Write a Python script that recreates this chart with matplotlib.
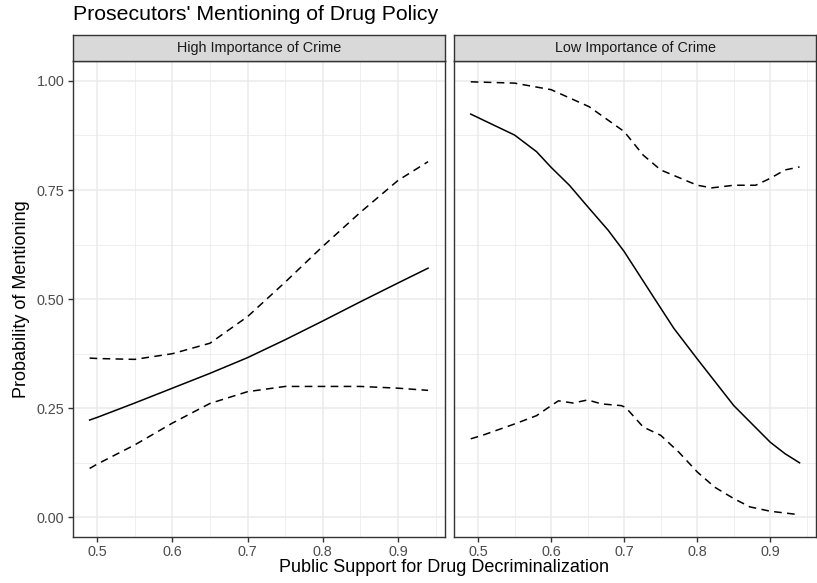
import numpy as np
import matplotlib.pyplot as plt
from matplotlib.ticker import MultipleLocator

plt.rcParams['font.family'] = ['Liberation Sans', 'DejaVu Sans']

# data
panels = ['High Importance of Crime', 'Low Importance of Crime']

high_x = [0.49, 0.50, 0.55, 0.60, 0.65, 0.70, 0.75, 0.80, 0.85, 0.90, 0.94]
high_fit = [0.223, 0.229, 0.262, 0.296, 0.330, 0.366, 0.407, 0.450, 0.494, 0.537, 0.571]
high_lo = [0.112, 0.122, 0.166, 0.216, 0.261, 0.288, 0.300, 0.300, 0.300, 0.296, 0.291]
high_hi = [0.365, 0.364, 0.362, 0.375, 0.399, 0.460, 0.539, 0.621, 0.699, 0.772, 0.815]

low_fit_x = [0.49, 0.55, 0.58, 0.60, 0.625, 0.65, 0.678, 0.70, 0.742, 0.768, 0.80, 0.85, 0.90, 0.92, 0.94]
low_fit = [0.924, 0.876, 0.838, 0.802, 0.761, 0.712, 0.658, 0.609, 0.500, 0.433, 0.363, 0.256, 0.172, 0.146, 0.125]

low_hi_x = [0.49, 0.55, 0.60, 0.652, 0.70, 0.726, 0.75, 0.80, 0.82, 0.85, 0.88, 0.90, 0.92, 0.94]
low_hi = [0.998, 0.995, 0.980, 0.941, 0.884, 0.830, 0.796, 0.761, 0.755, 0.761, 0.761, 0.777, 0.796, 0.803]

low_lo_x = [0.49, 0.506, 0.55, 0.58, 0.60, 0.61, 0.63, 0.65, 0.669, 0.696, 0.702, 0.726, 0.75,
            0.775, 0.80, 0.824, 0.85, 0.872, 0.90, 0.94]
low_lo = [0.180, 0.188, 0.214, 0.233, 0.256, 0.267, 0.262, 0.269, 0.260, 0.256, 0.252, 0.207, 0.188,
          0.149, 0.104, 0.069, 0.043, 0.024, 0.014, 0.006]

W, H = 817, 583
fig = plt.figure(figsize=(W / 100, H / 100), dpi=100)

panel_left = [72.7, 454.3]
panel_right = [445.0, 816.0]
top, bottom = 61.3, 537.0
strip_top = 34.7

series = [
    [(high_x, high_fit, '-'), (high_x, high_lo, '--'), (high_x, high_hi, '--')],
    [(low_fit_x, low_fit, '-'), (low_lo_x, low_lo, '--'), (low_hi_x, low_hi, '--')],
]

dark = '#333333'
for i in range(2):
    l, r = panel_left[i], panel_right[i]
    ax = fig.add_axes([l / W, 1 - bottom / H, (r - l) / W, (bottom - top) / H])
    for xs, ys, ls in series[i]:
        line, = ax.plot(xs, ys, color='black', lw=1.1, ls=ls)
        if ls == '--':
            line.set_dashes((5, 3.5))
    ax.set_xlim(0.4675, 0.9625)
    ax.set_ylim(-0.045, 1.045)
    ax.xaxis.set_major_locator(MultipleLocator(0.1))
    ax.xaxis.set_minor_locator(MultipleLocator(0.05))
    ax.yaxis.set_major_locator(MultipleLocator(0.25))
    ax.yaxis.set_minor_locator(MultipleLocator(0.125))
    ax.grid(which='major', color='#EBEBEB', lw=1.1)
    ax.grid(which='minor', color='#EBEBEB', lw=0.55)
    ax.set_axisbelow(True)
    for s in ax.spines.values():
        s.set_color(dark)
        s.set_linewidth(1.0)
    ax.tick_params(which='major', length=3.5, width=1.0, color=dark,
                   labelcolor='#4D4D4D', labelsize=10.4, pad=2.5)
    ax.tick_params(which='minor', length=0)
    ax.xaxis.set_major_formatter(plt.FuncFormatter(lambda v, p: f'{v:.1f}'))
    if i == 0:
        ax.yaxis.set_major_formatter(plt.FuncFormatter(lambda v, p: f'{v:.2f}'))
    else:
        ax.tick_params(axis='y', which='both', left=False, labelleft=False)

    # facet strip
    sax = fig.add_axes([l / W, 1 - top / H, (r - l) / W, (top - strip_top) / H])
    sax.set_facecolor('#D9D9D9')
    sax.set_xticks([])
    sax.set_yticks([])
    for s in sax.spines.values():
        s.set_color(dark)
        s.set_linewidth(1.0)
    sax.text(0.5, 0.5, panels[i], ha='center', va='center', fontsize=10.4,
             color='#1A1A1A', transform=sax.transAxes)

fig.text(72.7 / W, 1 - 20.5 / H, "Prosecutors' Mentioning of Drug Policy", fontsize=15.3,
         ha='left', va='baseline', color='black')
fig.text((72.7 + 816) / 2 / W, 1 - 567 / H, 'Public Support for Drug Decriminalization',
         fontsize=13, ha='center', va='center', color='black')
fig.text(22 / W, 1 - (top + bottom) / 2 / H, 'Probability of Mentioning', fontsize=13,
         ha='center', va='center', rotation=90, color='black')

fig.savefig('out.png', dpi=100)
